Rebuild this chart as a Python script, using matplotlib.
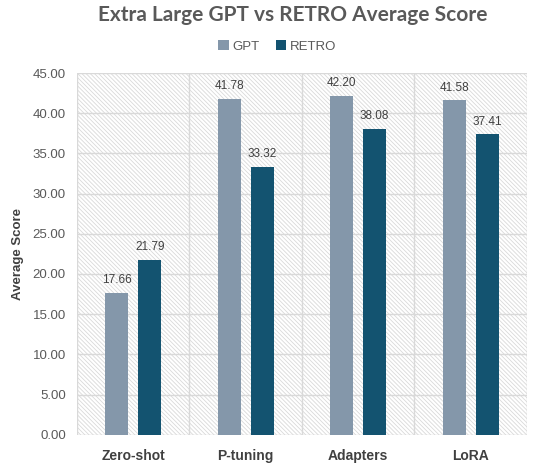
import numpy as np
import matplotlib.pyplot as plt
from matplotlib.patches import Rectangle

plt.rcParams['font.family'] = ['Liberation Sans', 'DejaVu Sans']
plt.rcParams['hatch.linewidth'] = 0.6
plt.rcParams['hatch.color'] = '#d9d9d9'

# Данные
categories = ['Zero-shot', 'P-tuning', 'Adapters', 'LoRA']
gpt = [17.66, 41.78, 42.20, 41.58]
retro = [21.79, 33.32, 38.08, 37.41]
yticks = [0, 5, 10, 15, 20, 25, 30, 35, 40, 45]

gpt_color = '#8497aa'
retro_color = '#135370'
grid_color = '#d9d9d9'
text_color = '#595959'

fig = plt.figure(figsize=(5.42, 4.65), dpi=100)
ax = fig.add_axes([0.142, 0.065, 0.83, 0.778])

x = np.arange(len(categories))
w = 0.205
off = 0.147

# Штриховка фона
bg = Rectangle((0, 0), 1, 1, transform=ax.transAxes, facecolor='white',
               edgecolor=grid_color, hatch='\\' * 8, linewidth=0, zorder=0)
ax.add_patch(bg)

b1 = ax.bar(x - off, gpt, w, color=gpt_color, label='GPT', zorder=3)
b2 = ax.bar(x + off, retro, w, color=retro_color, label='RETRO', zorder=3)

for bars in (b1, b2):
    for b in bars:
        ax.text(b.get_x() + b.get_width() / 2, b.get_height() + 0.8,
                f'{b.get_height():.2f}', ha='center', va='bottom',
                fontsize=8.5, color='#404040', zorder=4)

ax.set_xlim(-0.5, len(categories) - 0.5)
ax.set_ylim(0, 45)
ax.set_yticks(yticks)
ax.set_yticklabels([f'{v:.2f}' for v in yticks], fontsize=9.5, color=text_color)
ax.set_xticks(x)
ax.set_xticklabels(categories, fontsize=10, fontweight='bold', color='#404040')
ax.tick_params(length=0, pad=8)
ax.tick_params(axis='x', pad=10)

for v in yticks:
    ax.axhline(v, color=grid_color, linewidth=1, zorder=1)
for v in np.arange(len(categories) + 1) - 0.5:
    ax.axvline(v, color=grid_color, linewidth=1, zorder=1)
for s in ax.spines.values():
    s.set_visible(False)

ax.set_ylabel('Average Score', fontsize=9.5, fontweight='bold', color='#404040', labelpad=6)
fig.suptitle('Extra Large GPT vs RETRO Average Score', fontsize=15,
             fontweight='bold', color=text_color, x=0.54, y=0.99,
             family=['Lato', 'DejaVu Sans'])
fig.legend(loc='center', bbox_to_anchor=(0.512, 0.9), ncol=2, frameon=False,
           fontsize=9.5, handlelength=0.8, handleheight=0.8, handletextpad=0.3,
           columnspacing=1.2, labelcolor=text_color)

fig.savefig('out.png', dpi=100)
